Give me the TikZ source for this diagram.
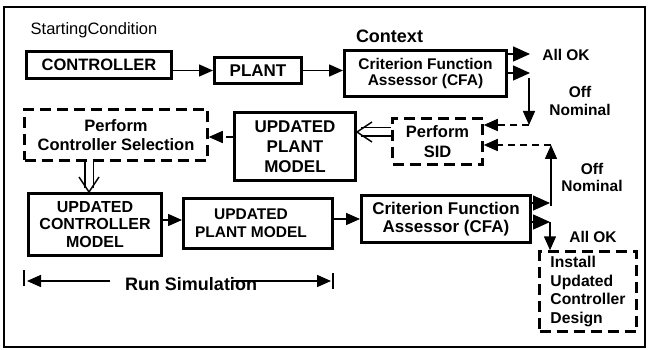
\documentclass[tikz,border=0pt]{standalone}
\usepackage{fontspec}
\setmainfont{Liberation Sans}
\usetikzlibrary{arrows.meta}
\begin{document}
\begin{tikzpicture}[x=1pt,y=-1pt,
  box/.style={draw, line width=3pt, inner sep=0pt, align=center, font=\bfseries\fontsize{15.5}{19}\selectfont},
  dbox/.style={box, line width=2.5pt, dash pattern=on 11pt off 6pt},
  lbl/.style={inner sep=0pt, align=center, font=\bfseries\fontsize{15.5}{18}\selectfont},
  arr/.style={line width=1.5pt, -{Triangle[length=14pt,width=12pt]}},
  bigarr/.style={line width=1.5pt, -{Triangle[length=17pt,width=15pt]}},
  darr/.style={arr, dash pattern=on 7pt off 5pt},
  dblline/.style={double, double distance=7pt, line width=1.5pt},
  vhead/.style={line width=1.5pt, line join=miter},
  bar/.style={line width=1.5pt}
]
\fill[white] (0,0) rectangle (651,350);
\useasboundingbox (0,0) rectangle (651,350);
\draw[line width=1.5pt] (4,7) rectangle (645,347);

\node[inner sep=0pt, font=\fontsize{16.5}{19}\selectfont] (start) at (94,30) {StartingCondition};
\node[lbl, font=\bfseries\fontsize{18}{21}\selectfont] (ctx) at (389.5,36) {Context};

\node[box, minimum width=145pt, minimum height=27pt, font=\bfseries\fontsize{16.5}{19}\selectfont] (ctrl) at (99,65) {CONTROLLER};
\node[box, minimum width=87pt, minimum height=26pt, font=\bfseries\fontsize{17}{19}\selectfont] (plant) at (258,70.5) {PLANT};
\node[box, minimum width=162pt, minimum height=46pt, font=\bfseries\fontsize{15.5}{16.5}\selectfont] (cfa1) at (425.5,73.5) {Criterion Function\\Assessor (CFA)};
\node[lbl] (ok1) at (566,55) {All OK};
\node[lbl] (off1) at (580,101) {Off\\Nominal};

\node[dbox, minimum width=90pt, minimum height=46pt, font=\bfseries\fontsize{16.5}{20}\selectfont] (sid) at (437.5,141.5) {Perform\\SID};
\node[box, minimum width=121pt, minimum height=68pt, font=\bfseries\fontsize{17}{20}\selectfont] (upm) at (295,146.5) {UPDATED\\PLANT\\MODEL};
\node[dbox, minimum width=183pt, minimum height=51pt, font=\bfseries\fontsize{16.5}{19}\selectfont] (pcs) at (116,135) {Perform\\Controller Selection};

\node[box, minimum width=133pt, minimum height=62pt, font=\bfseries\fontsize{16}{17.5}\selectfont] (ucm) at (95,224.5) {UPDATED\\CONTROLLER\\MODEL};
\node[box, minimum width=149pt, minimum height=50pt, font=\bfseries\fontsize{15.5}{18}\selectfont] (upm2) at (258,223.5) {UPDATED\hspace*{14pt}\\PLANT MODEL\hspace*{14pt}};
\node[box, minimum width=169pt, minimum height=47pt, font=\bfseries\fontsize{17}{18}\selectfont] (cfa2) at (446,219) {Criterion Function\\Assessor (CFA)};
\node[lbl, font=\bfseries\fontsize{15.5}{17}\selectfont] (off2) at (592,177) {Off\\Nominal};
\node[lbl] (ok2) at (593,237) {All OK};
\node[dbox, minimum width=97pt, minimum height=80pt, align=left, font=\bfseries\fontsize{15.7}{18.5}\selectfont] (inst) at (588,291.5) {Install\\Updated\\Controller\\Design};

\node[lbl, font=\bfseries\fontsize{18}{21}\selectfont] (rs) at (191,284) {Run Simulation};

% connectors
\coordinate (yA) at (0,137);
\coordinate (yB) at (0,132);
\coordinate (yC) at (0,220);
\draw[arr] (ctrl.east |- plant.west) -- (plant.west);
\draw[arr] (plant.east) -- (plant.east -| cfa1.west);

\coordinate (ok1t) at (530,54);
\coordinate (off1t) at (530,73);
\draw[bigarr] (cfa1.east |- ok1t) -- (ok1t);
\draw[bigarr] (cfa1.east |- off1t) -- (off1t);
\coordinate (dn1a) at (529,78);
\coordinate (dn1b) at (529,125);
\draw[arr] (dn1a) -- (dn1b);
\draw[darr] (dn1b) -- (dn1b -| sid.east);

\coordinate (up1a) at (551,206);
\coordinate (up1b) at (551,145);
\draw[arr] (up1a) -- (up1b);
\draw[darr] (up1b) -- (up1b -| sid.east);

% double arrow SID -> updated plant model
\path (upm.east |- yB) coordinate (t1);
\draw[dblline] (sid.west |- yB) -- ([xshift=4pt]t1);
\draw[vhead] ([xshift=15pt,yshift=10pt]t1) -- (t1) -- ([xshift=15pt,yshift=-10pt]t1);

\draw[darr] (upm.west |- yA) -- (pcs.east |- yA);

% double arrow controller selection -> updated controller model
\coordinate (dx) at (89,0);
\path (ucm.north -| dx) coordinate (t2);
\draw[dblline] (pcs.south -| dx) -- ([yshift=4pt]t2);
\draw[vhead] ([xshift=-10pt,yshift=15pt]t2) -- (t2) -- ([xshift=10pt,yshift=15pt]t2);

\draw[arr] (ucm.east |- yC) -- (upm2.west |- yC);
\draw[arr] (upm2.east |- cfa2.west) -- (cfa2.west);

\coordinate (c2a) at (550,203);
\coordinate (c2b) at (550,222);
\draw[bigarr] (cfa2.east |- c2a) -- (c2a);
\draw[bigarr] (cfa2.east |- c2b) -- (c2b);
\draw[arr] (c2b) -- (c2b |- inst.north);

% run simulation
\coordinate (rsl) at (27,281);
\coordinate (rsa) at (110,281);
\coordinate (rsm) at (232,281);
\coordinate (rsr) at (331,281);
\draw[arr] (rsa) -- (rsl);
\draw[arr] (rsm) -- (rsr);
\draw[bar] (24,270) -- (24,286);
\draw[bar] (333,273) -- (333,289);
\end{tikzpicture}
\end{document}
